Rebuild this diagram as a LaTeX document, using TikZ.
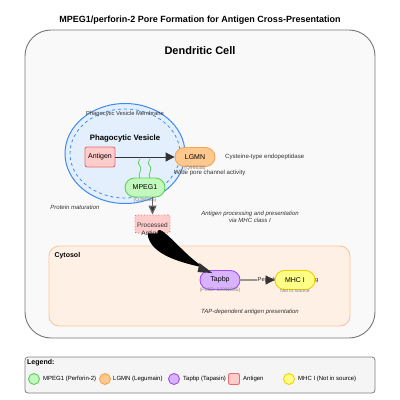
\documentclass[tikz,border=0pt]{standalone}
\usepackage{fontspec}
\setmainfont{Liberation Sans}
\usetikzlibrary{arrows.meta,calc,shapes.misc}
\definecolor{cellfill}{HTML}{F9F9F9}
\definecolor{cellline}{HTML}{777777}
\definecolor{vesfill}{HTML}{E3EFFC}
\definecolor{vesline}{HTML}{3D8AF7}
\definecolor{mpegfill}{HTML}{C2F7BE}
\definecolor{mpegline}{HTML}{5ED05A}
\definecolor{lgmnfill}{HTML}{FFC88E}
\definecolor{lgmnline}{HTML}{F5A650}
\definecolor{tapfill}{HTML}{D9B3FF}
\definecolor{tapline}{HTML}{A050F0}
\definecolor{mhcfill}{HTML}{FFFF88}
\definecolor{mhcline}{HTML}{F0D000}
\definecolor{agfill}{HTML}{FFCCCC}
\definecolor{agline}{HTML}{EA6B6B}
\definecolor{cytfill}{HTML}{FFF0E5}
\definecolor{cytline}{HTML}{FFC49A}
\definecolor{legfill}{HTML}{F5F5F5}
\definecolor{dark}{HTML}{333333}
\definecolor{midgray}{HTML}{666666}
\tikzset{
  prot/.style={rounded rectangle, draw, line width=0.9pt, minimum width=40pt, minimum height=19pt, inner sep=0pt, font=\fontsize{7}{8}\selectfont},
  sub/.style={font=\fontsize{5}{6}\selectfont, text=gray, inner sep=0pt},
  note/.style={font=\fontsize{6}{7.3}\selectfont\itshape, text=dark, inner sep=0pt, align=center},
  plain/.style={font=\fontsize{6.1}{7.5}\selectfont, text=dark, inner sep=0pt},
  legtext/.style={font=\fontsize{6}{7.5}\selectfont, anchor=west, inner sep=0pt},
  legdot/.style={circle, draw, line width=0.9pt, minimum size=11pt, inner sep=0pt},
}
\begin{document}
\begin{tikzpicture}[x=1pt,y=-1pt]
\useasboundingbox[fill=white] (0,0) rectangle (400,400);
% title
\node[font=\fontsize{9}{10.5}\selectfont\bfseries] (title) at (200,20) {MPEG1/perforin-2 Pore Formation for Antigen Cross-Presentation};
% dendritic cell
\draw[fill=cellfill, draw=cellline, line width=0.9pt, rounded corners=26pt] (25,30) rectangle (375,338);
\node[font=\fontsize{11}{13}\selectfont\bfseries] (dc) at (200,51) {Dendritic Cell};
% vesicle
\draw[fill=vesfill, draw=vesline, line width=1pt] (125,153.5) ellipse [x radius=60, y radius=50];
\draw[draw=vesline, dashed, line width=0.8pt] (125,153.5) ellipse [x radius=55, y radius=44.5];
\node[plain, font=\fontsize{5.8}{7}\selectfont] (vm) at (125,114) {Phagocytic Vesicle Membrane};
\node[font=\fontsize{7.8}{9}\selectfont\bfseries] (vt) at (125,138) {Phagocytic Vesicle};
% cytosol
\draw[fill=cytfill, draw=cytline, line width=0.9pt, rounded corners=10pt] (49,246) rectangle (350,326);
\node[font=\fontsize{7}{8}\selectfont\bfseries, anchor=west] (cyt) at (51,256) {Cytosol};
% nodes
\node[draw=agline, fill=agfill, line width=0.9pt, rounded corners=2pt, minimum width=30pt, minimum height=20pt, inner sep=0pt, font=\fontsize{7}{8}\selectfont] (ag) at (100,157) {Antigen};
\node[prot, draw=lgmnline, fill=lgmnfill] (lgmn) at (195,157) {LGMN};
\node[sub] (lgmnid) at (195,168.5) {(Q99538)};
\node[prot, draw=mpegline, fill=mpegfill] (mpeg) at (145,187.5) {MPEG1};
\node[sub] (mpegid) at (145,200) {(Q2M385)};
% pores
\draw[mpegline, line width=0.8pt] (140,178) .. controls (137,174) and (143,170) .. (140,166) .. controls (137,163) and (139,161) .. (140,159);
\draw[mpegline, line width=0.8pt] (150,178) .. controls (147,174) and (153,170) .. (150,166) .. controls (147,163) and (149,161) .. (150,159);
% antigen -> lgmn
\draw[dark, line width=1pt, -{Triangle[length=9pt,width=9pt]}] (ag) -- (lgmn);
\node[plain, anchor=west] (cys) at (225,157) {Cysteine-type endopeptidase};
\node[plain, anchor=west] (wide) at (174,173) {Wide pore channel activity};
\node[note] (pm) at (75,207) {Protein maturation};
% processed antigen
\node[draw=agline, fill=agfill, dotted, line width=0.9pt, rounded corners=2pt, minimum width=35pt, minimum height=18pt, inner sep=0pt] (proc) at (152.5,224) {};
\node[plain, font=\fontsize{6.5}{7.5}\selectfont] (proct1) at (152.5,225) {Processed};
\node[plain, font=\fontsize{6.5}{7.5}\selectfont] (proct2) at (152.5,234) {Antigen};
\draw[midgray, line width=1.2pt, -{Triangle[length=9pt,width=8pt,fill=dark]}] (mpeg.south -| proc.north) -- (proc.north);
\node[note] (apn) at (250,217) {Antigen processing and presentation\\via MHC class I};
% cytosol nodes
\node[prot, draw=tapline, fill=tapfill] (tap) at (220,280) {Tapbp};
\node[sub] (tapid) at (220,290.5) {(PMID: 12011085)};
\node[plain, font=\fontsize{5.8}{7}\selectfont] (pl) at (288,280) {Peptide antigen binding};
\draw[midgray, line width=1.2pt] (tap) -- (pl.west);
\node[prot, draw=mhcline, fill=mhcfill] (mhc) at (295,280) {MHC I};
\draw[dark, line width=1pt, -{Triangle[length=9pt,width=9pt]}] (tap.east) ++(28,0) coordinate (pk) (pk) -- (mhc.west);
\node[sub] (mhcid) at (295,290.5) {Not in source};
% thick curved connector
\fill[black] ($(proc.south)+(-5,0)$) .. controls +(2,22) and +(-22,-5) .. ($(tap.north west)+(-4,-2)$) .. controls +(-20,-10) and +(0,-15) .. ($(proc.south)+(5,0)$) -- cycle;
\fill[dark] ($(tap.north west)+(3,3)$) -- ($(tap.north west)+(-10,-7)$) -- ($(tap.north west)+(-12,2)$) -- cycle;
\node[note] (tap2) at (250,312) {TAP-dependent antigen presentation};
% legend
\draw[fill=legfill, draw=gray, line width=0.8pt, rounded corners=3pt] (25,357) rectangle (375,393);
\node[font=\fontsize{7}{8}\selectfont\bfseries, anchor=west, inner sep=0pt] (legt) at (27,363) {Legend:};
\node[legdot, draw=mpegline, fill=mpegfill] (l1) at (34,379) {};
\node[legtext] (l1t) at (43,379) {MPEG1 (Perforin-2)};
\node[legdot, draw=lgmnline, fill=lgmnfill] (l2) at (105,379) {};
\node[legtext] (l2t) at (113,379) {LGMN (Legumain)};
\node[legdot, draw=tapline, fill=tapfill] (l3) at (174,379) {};
\node[legtext] (l3t) at (183,379) {Tapbp (Tapasin)};
\node[draw=agline, fill=agfill, line width=0.9pt, rounded corners=2pt, minimum size=11pt, inner sep=0pt] (l4) at (234,379) {};
\node[legtext] (l4t) at (243,379) {Antigen};
\node[legdot, draw=mhcline, fill=mhcfill] (l5) at (289,379) {};
\node[legtext] (l5t) at (298,379) {MHC I (Not in source)};
\end{tikzpicture}
\end{document}
